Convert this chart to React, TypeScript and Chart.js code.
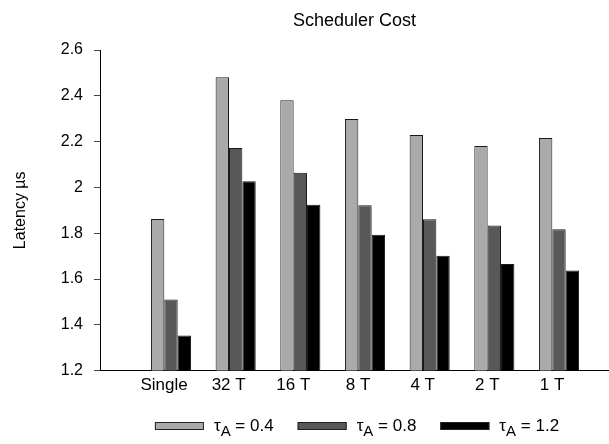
import React, { useEffect, useRef } from 'react';
import { Chart, registerables } from 'chart.js';

Chart.register(...registerables);

// Scheduler latency (µs) per configuration, one series per τA setting
const categories = ['Single', '32 T', '16 T', '8 T', '4 T', '2 T', '1 T'];
const tauLevels = ['0.4', '0.8', '1.2'];
const latencyTau04 = [1.862, 2.481, 2.381, 2.299, 2.229, 2.181, 2.216];
const latencyTau08 = [1.511, 2.172, 2.064, 1.922, 1.861, 1.834, 1.817];
const latencyTau12 = [1.353, 2.027, 1.924, 1.793, 1.701, 1.665, 1.637];
const yTickValues = [1.2, 1.4, 1.6, 1.8, 2.0, 2.2, 2.4, 2.6];

const seriesValues = [latencyTau04, latencyTau08, latencyTau12];
const seriesColors = ['#aaaaaa', '#585858', '#000000'];
const FONT = '"Liberation Sans", Arial, Helvetica, sans-serif';

// Legend with a subscripted τA symbol, centred under the plot area
const tauLegend = {
  id: 'tauLegend',
  afterDraw(chart: any) {
    const { ctx, chartArea } = chart;
    const mainFont = `17px ${FONT}`;
    const subFont = `15px ${FONT}`;
    const boxW = 49;
    const boxH = 8;
    const boxGap = 10;
    const itemGap = 24;
    const baseline = 430.5;
    ctx.save();
    const items = chart.data.datasets.map((ds: any, i: number) => {
      ctx.font = mainFont;
      const wTau = ctx.measureText('τ').width;
      const wRest = ctx.measureText(` = ${tauLevels[i]}`).width;
      ctx.font = subFont;
      const wSub = ctx.measureText('A').width;
      return { color: ds.backgroundColor, wTau, wSub, wRest, rest: ` = ${tauLevels[i]}` };
    });
    const total =
      items.reduce((acc: number, it: any) => acc + boxW + boxGap + it.wTau + it.wSub + it.wRest, 0) +
      itemGap * (items.length - 1);
    let x = (chartArea.left + chartArea.right) / 2 + 2.5 - total / 2;
    ctx.textBaseline = 'alphabetic';
    ctx.textAlign = 'left';
    items.forEach((it: any) => {
      ctx.fillStyle = it.color;
      ctx.fillRect(x, baseline - 8.5, boxW, boxH);
      ctx.strokeStyle = '#222';
      ctx.lineWidth = 1;
      ctx.strokeRect(x + 0.5, baseline - 8, boxW - 1, boxH - 1);
      x += boxW + boxGap;
      ctx.fillStyle = '#000';
      ctx.font = mainFont;
      ctx.fillText('τ', x, baseline);
      x += it.wTau;
      ctx.font = subFont;
      ctx.fillText('A', x, baseline + 5);
      x += it.wSub;
      ctx.font = mainFont;
      ctx.fillText(it.rest, x, baseline);
      x += it.wRest + itemGap;
    });
    ctx.restore();
  },
};

export default function App() {
  const canvasRef = useRef<HTMLCanvasElement | null>(null);

  useEffect(() => {
    if (!canvasRef.current) return;
    const chart = new Chart(canvasRef.current, {
      type: 'bar',
      data: {
        datasets: seriesValues.map((vals, s) => ({
          label: `τA = ${tauLevels[s]}`,
          data: vals.map((y, i) => ({ x: i, y })),
          backgroundColor: seriesColors[s],
          borderColor: '#1a1a1a',
          borderWidth: 1,
          categoryPercentage: 0.62,
          barPercentage: 1,
        })),
      },
      options: {
        responsive: false,
        animation: false,
        layout: { padding: { top: 0, left: 0, right: 0, bottom: 43 } },
        plugins: {
          legend: { display: false },
          tooltip: { enabled: false },
          title: {
            display: true,
            text: 'Scheduler Cost',
            fullSize: false,
            color: '#000',
            font: { family: FONT, size: 18, weight: 'normal' },
            padding: { top: 10, bottom: 18.4 },
          },
        },
        scales: {
          x: {
            type: 'linear',
            offset: false,
            min: -1.098,
            max: 6.773,
            grid: { display: false, drawTicks: false, tickLength: 0 },
            border: { display: true, color: '#000', width: 1 },
            afterBuildTicks: (scale: any) => {
              scale.ticks = categories.map((_, i) => ({ value: i }));
            },
            ticks: {
              autoSkip: false,
              maxRotation: 0,
              padding: 5,
              labelOffset: -7,
              color: '#000',
              font: { family: FONT, size: 17 },
              callback: (v: any) => categories[v] ?? '',
            },
          },
          y: {
            min: 1.2,
            max: 2.6,
            afterBuildTicks: (scale: any) => {
              scale.ticks = yTickValues.map((v) => ({ value: v }));
            },
            afterFit: (scale: any) => {
              scale.width = 100;
            },
            grid: { drawOnChartArea: false, drawTicks: true, tickLength: 6, color: '#444' },
            border: { display: true, color: '#000', width: 1 },
            ticks: {
              padding: 11,
              color: '#000',
              font: { family: FONT, size: 16 },
              callback: (v: any) => String(Number(Number(v).toFixed(1))),
            },
            title: {
              display: true,
              text: 'Latency µs',
              color: '#000',
              font: { family: FONT, size: 16 },
              padding: { top: 11, bottom: 0 },
            },
          },
        },
      },
      plugins: [tauLegend],
    } as any);
    return () => chart.destroy();
  }, []);

  return (
    <div style={{ position: 'fixed', left: 0, top: 0, width: 609, height: 444, background: '#fff' }}>
      <canvas ref={canvasRef} width={609} height={444} />
    </div>
  );
}
